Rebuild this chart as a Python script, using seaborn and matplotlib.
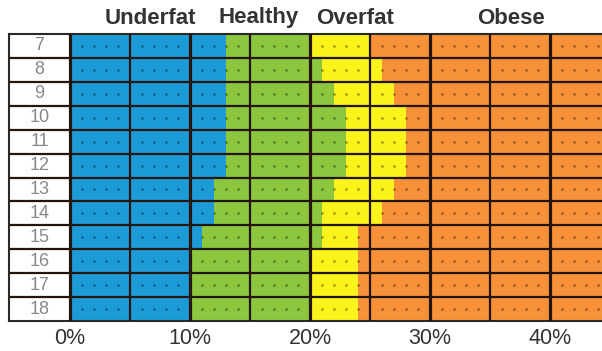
import numpy as np
import pandas as pd
import matplotlib
matplotlib.use("Agg")
import matplotlib.pyplot as plt
import seaborn as sns

# 데이터 (그림에서 읽은 값, 단위: %)
ages = ["7", "8", "9", "10", "11", "12", "13", "14", "15", "16", "17", "18"]
underfat = [13, 13, 13, 13, 13, 13, 12, 12, 11, 10, 10, 10]
healthy = [7, 8, 9, 10, 10, 10, 10, 9, 10, 10, 10, 10]
overfat = [5, 5, 5, 5, 5, 5, 5, 5, 3, 4, 4, 4]
obese = [75, 74, 73, 72, 72, 72, 73, 74, 76, 76, 76, 76]
groups = ["Underfat", "Healthy", "Overfat", "Obese"]
colors = ["#1d9bd7", "#8dc63f", "#fbf41c", "#f7923a"]
x_ticks = [0, 10, 20, 30, 40]

sns.set_style("white")
plt.rcParams["font.family"] = ["Liberation Sans", "DejaVu Sans"]

W, H = 602, 351
px_per_pct = 12.0
x0_px, left_px, top_px, bot_px = 70, 9, 34, 321

fig = plt.figure(figsize=(W / 100, H / 100), dpi=100)
ax = fig.add_axes([left_px / W, (H - bot_px) / H, (W - left_px) / W, (bot_px - top_px) / H])

df = pd.DataFrame({"age": ages, "Underfat": underfat, "Healthy": healthy,
                   "Overfat": overfat, "Obese": obese})
cum = df[groups].cumsum(axis=1)

# 누적 막대: 큰 값부터 그려서 쌓인 모양을 만듦
for g, c in reversed(list(zip(groups, colors))):
    sns.barplot(x=cum[g], y=df["age"], orient="h", color=c, width=1.0,
                saturation=1, edgecolor="none", linewidth=0, ax=ax)

x_left = -(x0_px - left_px) / px_per_pct
x_right = (W - x0_px) / px_per_pct
ax.set_xlim(x_left, x_right)
ax.set_ylim(len(ages) - 0.5, -0.5)

# 점 무늬
dot_x = [v for v in range(1, int(x_right) + 1) if v % 5 != 0]
dx, dy = np.meshgrid(dot_x, np.arange(len(ages)))
ax.scatter(dx.ravel(), dy.ravel(), s=4, color="black", alpha=0.35, linewidths=0, zorder=3)

# 격자선
for v in range(0, int(x_right) + 1, 5):
    ax.axvline(v, color="#24160c", lw=2.3 if v % 10 == 0 else 1.6, zorder=4)
for i in range(len(ages) - 1):
    ax.axhline(i + 0.5, color="#24160c", lw=1.6, zorder=4)

# 나이 라벨 칸
for i, a in enumerate(ages):
    ax.text(x_left / 2, i, a, ha="center", va="center", color="#888888", fontsize=13)

for s in ["left", "top", "bottom"]:
    ax.spines[s].set_visible(True)
    ax.spines[s].set_color("#2a2a2a")
    ax.spines[s].set_linewidth(1.5)
ax.spines["right"].set_visible(False)

ax.set_yticks([])
ax.set_xticks(x_ticks)
ax.set_xticklabels([f"{v}%" for v in x_ticks], fontsize=15.5, color="#333333")
ax.tick_params(axis="x", length=0, pad=5)
ax.set_xlabel("")
ax.set_ylabel("")

# 상단 범주 제목
header_x = [150, 259, 355, 511]
for g, hx in zip(groups, header_x):
    fig.text(hx / W, 1 - 18 / H, g, ha="center", va="center", fontsize=16,
             fontweight="bold", color="#333333")

fig.savefig("out.png", dpi=100)
